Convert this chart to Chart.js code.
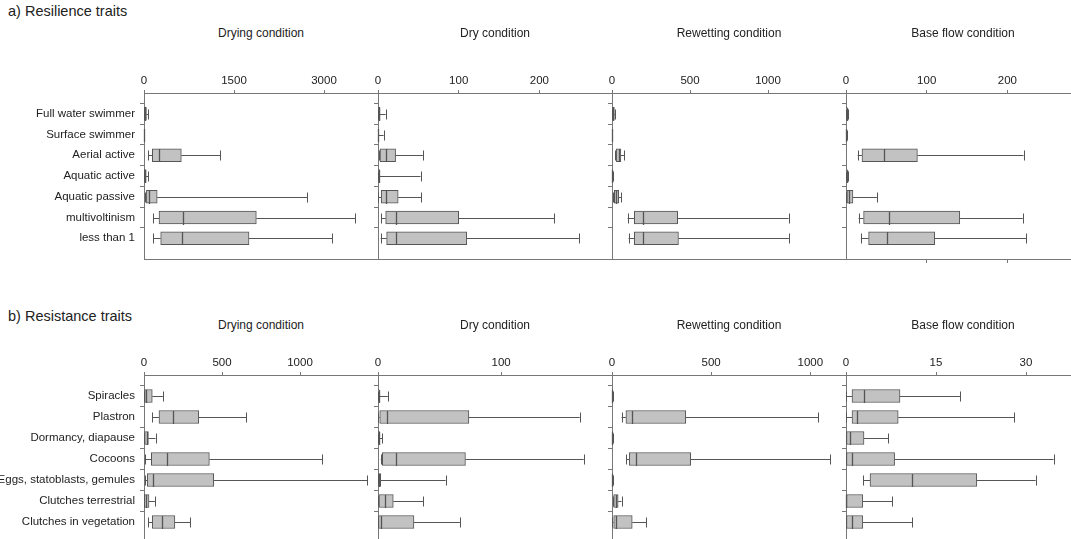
<!DOCTYPE html>
<html>
<head>
<meta charset="utf-8">
<script src="https://cdn.jsdelivr.net/npm/chart.js@4"></script>
<style>
  html, body { margin: 0; padding: 0; background: #fff; overflow: hidden; width: 1071px; height: 539px; }
  body { position: relative; font-family: Arial, "Liberation Sans", sans-serif; color: #222; }
  .rowtitle { position: absolute; left: 8px; font-size: 14.5px; }
  .ptitle { position: absolute; width: 234px; text-align: center; font-size: 12px; }
  .panel { position: absolute; }
</style>
</head>
<body>
<div class="rowtitle" style="top:3px">a) Resilience traits</div>
<div class="rowtitle" style="top:308px">b) Resistance traits</div>
<div id="wrap"></div>
<script>
// categories
const resilienceCats = ['Full water swimmer', 'Surface swimmer', 'Aerial active', 'Aquatic active',
                        'Aquatic passive', 'multivoltinism', 'less than 1'];
const resistanceCats = ['Spiracles', 'Plastron', 'Dormancy, diapause', 'Cocoons',
                        'Eggs, statoblasts, gemules', 'Clutches terrestrial', 'Clutches in vegetation'];
const conditions = ['Drying condition', 'Dry condition', 'Rewetting condition', 'Base flow condition'];

// boxes: [min, q1, median, q3, max]
const resDrying = [[0, 5, 15, 40, 70], [0, 0, 0, 0, 5], [72, 139, 250, 622, 1267], [0, 5, 15, 35, 70],
                   [10, 40, 85, 220, 2720], [156, 250, 656, 1872, 3517], [156, 278, 639, 1750, 3139]];
const resDry = [[0, 0.5, 1, 2.5, 9.5], [0, 0, 0, 0, 7], [1, 2.5, 10.3, 21.8, 55.6], [0, 0.5, 1, 2, 52.7],
                [0.5, 4, 9.5, 25, 53.5], [4, 9.5, 22.6, 100, 218.5], [3.3, 10.7, 21.8, 110, 249]];
const resRewet = [[0, 3, 8, 15, 20], [0, 0, 0, 0, 3], [21, 28, 43, 57, 79], [0, 0, 2, 4, 6],
                  [6, 15, 26, 43, 57], [100, 143, 198, 421, 1132], [106, 143, 198, 426, 1134]];
const resBase = [[0, 0.5, 1, 1.5, 2], [0, 0, 0, 0, 1], [14.4, 19.8, 47.3, 88.5, 220], [0, 0.5, 1, 1.5, 2],
                 [0, 1.2, 3.3, 8.6, 38.3], [15.6, 21.8, 52.7, 141, 219], [18.5, 28, 50.6, 110, 223]];

const sisDrying = [[0, 4, 15, 53, 121], [53, 96, 187, 351, 655], [0, 4, 17, 28, 74], [4, 47, 145, 419, 1143],
                   [4, 21, 60, 447, 1432], [0, 2, 15, 32, 70], [28, 53, 117, 198, 298]];
const sisDry = [[0, 0.2, 0.5, 0.8, 8], [0, 1.4, 7.6, 73.8, 163.8], [0, 0.3, 0.8, 1.5, 3.5], [2.2, 3.5, 14.9, 71, 167],
                [0, 0, 0.8, 2.2, 54.9], [0, 0.8, 5.4, 12.4, 36.5], [0, 0, 2.7, 29.2, 66.5]];
const sisRewet = [[0, 1, 2, 3, 4], [48, 70, 102, 372, 1041], [0, 1, 2, 4, 5], [73, 87, 121, 397, 1100],
                  [0, 1, 2, 3, 4], [5, 8.5, 19, 31, 48], [0, 8.5, 22, 102, 172]];
const sisBase = [[0, 1, 3, 9, 19], [0, 1, 1.9, 8.7, 28], [0, 0, 0.6, 3, 7], [0, 0, 1, 8.1, 34.6],
                 [2.9, 4, 11, 21.8, 31.6], [0, 0, 0, 2.8, 7.7], [0, 0, 1, 2.8, 11]];

// x axis ticks and ranges
const resTicks = [[0, 1500, 3000], [0, 100, 200], [0, 500, 1000], [0, 100, 200]];
const resMax = [3900, 290, 1500, 290];
const sisTicks = [[0, 500, 1000], [0, 100], [0, 500, 1000], [0, 15, 30]];
const sisMax = [1500, 190, 1180, 39];

const axisColor = '#777';
const boxFill = '#c2c2c2';
const boxLine = '#555';

const whiskerPlugin = {
  id: 'whiskers',
  afterDatasetsDraw(chart) {
    const stats = chart.options.plugins.whiskers.stats;
    const xs = chart.scales.x, ys = chart.scales.y;
    const c = chart.ctx;
    c.save();
    c.lineWidth = 1;
    c.strokeStyle = boxLine;
    stats.forEach((s, i) => {
      const y = Math.round(ys.getPixelForValue(i + 1)) + 0.5;
      const [mn, q1, md, q3, mx] = s.map(v => xs.getPixelForValue(v));
      c.beginPath();
      c.moveTo(mn, y); c.lineTo(q1, y);
      c.moveTo(q3, y); c.lineTo(mx, y);
      c.moveTo(Math.round(mn) + 0.5, y - 5); c.lineTo(Math.round(mn) + 0.5, y + 5);
      c.moveTo(Math.round(mx) + 0.5, y - 5); c.lineTo(Math.round(mx) + 0.5, y + 5);
      c.stroke();
      c.beginPath();
      c.lineWidth = 1.3;
      c.moveTo(Math.round(md) + 0.5, y - 6.5); c.lineTo(Math.round(md) + 0.5, y + 6.5);
      c.stroke();
      c.lineWidth = 1;
    });
    c.restore();
  }
};

function makePanel(cats, stats, ticks, max, opts) {
  const div = document.createElement('div');
  div.className = 'panel';
  const yW = opts.first ? 144 : 16;
  const left = opts.first ? 0 : opts.areaLeft - 16;
  const width = opts.areaLeft + 234 - left + 4;
  div.style.left = left + 'px';
  div.style.top = opts.top + 'px';
  div.style.width = width + 'px';
  div.style.height = opts.height + 'px';
  const cv = document.createElement('canvas');
  div.appendChild(cv);
  document.getElementById('wrap').appendChild(div);

  const labels = [''].concat(cats, ['']);
  const boxes = [null].concat(stats.map(s => [s[1], s[3]]), [null]);

  new Chart(cv, {
    type: 'bar',
    data: {
      labels: labels,
      datasets: [{
        data: boxes,
        backgroundColor: boxFill,
        borderColor: boxLine,
        borderWidth: 1,
        borderSkipped: false,
        barThickness: 13
      }]
    },
    options: {
      indexAxis: 'y',
      responsive: true,
      maintainAspectRatio: false,
      animation: false,
      layout: { padding: { left: 0, right: 4, top: 0, bottom: 0 } },
      scales: {
        x: {
          type: 'linear',
          position: 'top',
          min: 0,
          max: max,
          afterBuildTicks: (sc) => { sc.ticks = ticks.map(v => ({ value: v })); },
          afterFit: (sc) => { sc.height = 32; },
          grid: { drawOnChartArea: false, tickLength: 3, color: axisColor },
          border: { display: true, color: axisColor },
          ticks: {
            padding: 2, color: '#222', font: { family: 'Arial', size: 11.5 }, maxRotation: 0,
            callback: (v) => String(v)
          }
        },
        xb: {
          type: 'linear',
          position: 'bottom',
          min: 0,
          max: max,
          afterBuildTicks: (sc) => { sc.ticks = ticks.map(v => ({ value: v })); },
          afterFit: (sc) => { sc.height = 10; },
          grid: {
            drawOnChartArea: false,
            tickLength: opts.bottomTicks ? 4 : 0,
            color: (ctx) => (opts.bottomTicks && ctx.index > 0) ? axisColor : 'rgba(0,0,0,0)'
          },
          border: { display: true, color: axisColor },
          ticks: { display: false }
        },
        y: {
          type: 'category',
          offset: false,
          afterFit: (sc) => { sc.width = yW; sc.paddingTop = 0; sc.paddingBottom = 0; },
          grid: {
            drawOnChartArea: false,
            tickLength: 4,
            color: (ctx) => (ctx.index === 0 || ctx.index === labels.length - 1) ? 'rgba(0,0,0,0)' : axisColor
          },
          border: { display: true, color: axisColor },
          ticks: { display: !!opts.first, padding: 5, color: '#222', font: { family: 'Arial', size: 11.5 }, autoSkip: false }
        }
      },
      plugins: {
        legend: { display: false },
        tooltip: { enabled: false },
        whiskers: { stats: stats }
      }
    },
    plugins: [whiskerPlugin]
  });
}

function addTitle(text, left, top) {
  const t = document.createElement('div');
  t.className = 'ptitle';
  t.style.left = left + 'px';
  t.style.top = top + 'px';
  t.textContent = text;
  document.body.appendChild(t);
}

const areaLefts = [144, 378, 612, 846];
const resStats = [resDrying, resDry, resRewet, resBase];
const sisStats = [sisDrying, sisDry, sisRewet, sisBase];

areaLefts.forEach((al, i) => {
  makePanel(resilienceCats, resStats[i], resTicks[i], resMax[i],
    { first: i === 0, areaLeft: al, top: 61, height: 32 + 166 + 10, bottomTicks: i === 3 });
  addTitle(conditions[i], al, 26);
  makePanel(resistanceCats, sisStats[i], sisTicks[i], sisMax[i],
    { first: i === 0, areaLeft: al, top: 343, height: 32 + 168 + 10, bottomTicks: false });
  addTitle(conditions[i], al, 318);
});
</script>
</body>
</html>
